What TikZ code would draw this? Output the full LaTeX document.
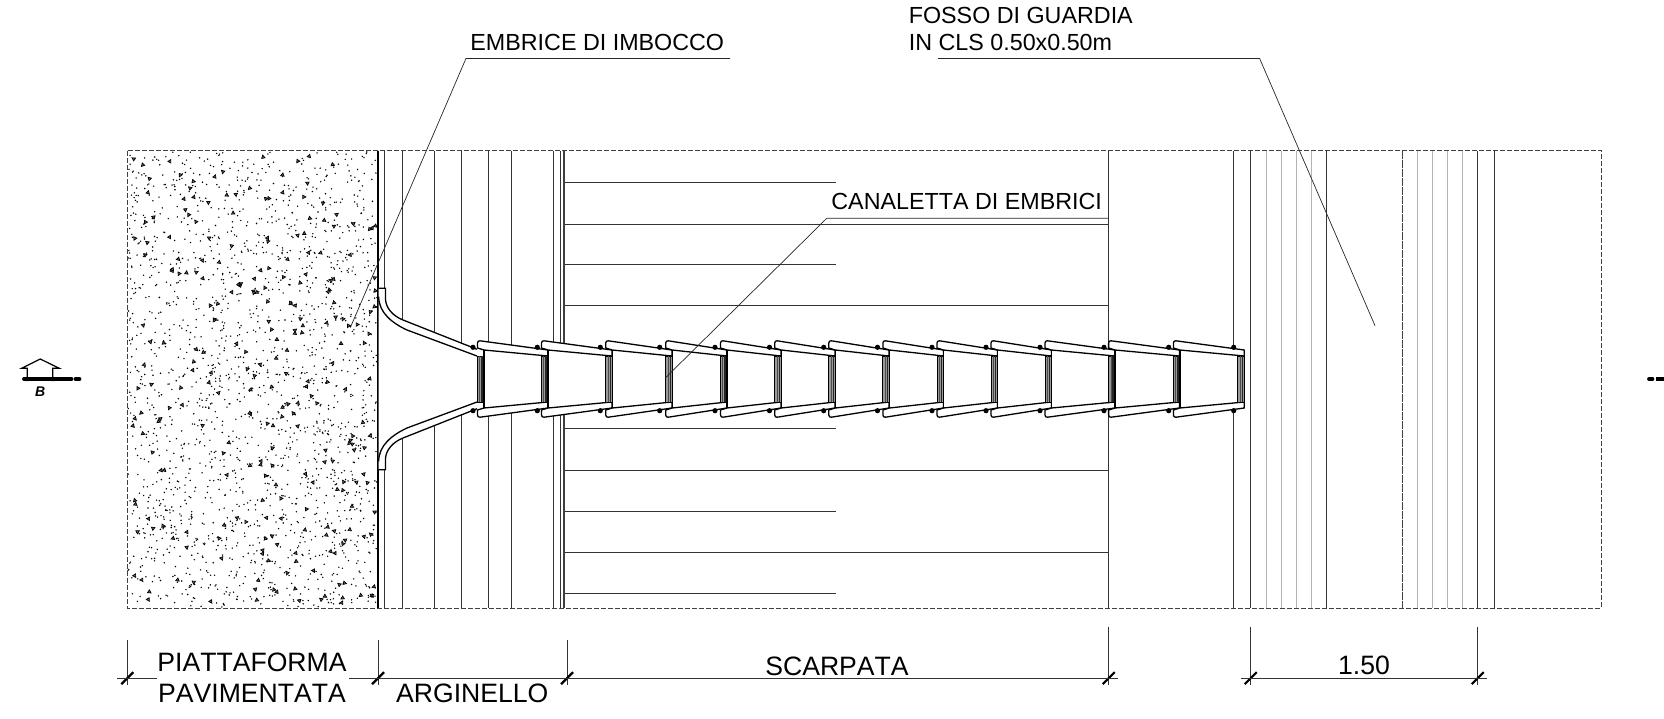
\documentclass[tikz,border=0pt]{standalone}
\usepackage{fontspec}
\setmainfont[Kerning=Off]{Liberation Sans}
\usetikzlibrary{calc}

\tikzset{
  thinline/.style={line width=.45pt,black!80},
  lightline/.style={line width=.45pt,black!30},
  leaderline/.style={line width=.35pt,black!85},
  tileline/.style={line width=.65pt,black,fill=white,line join=round},
  dimtext/.style={font=\fontsize{13.3}{13.3}\selectfont,inner sep=0pt,anchor=base},
  labeltext/.style={font=\fontsize{11.65}{11.65}\selectfont,inner sep=0pt,anchor=base west}
}

\begin{document}
\begin{tikzpicture}[x=.5pt,y=-.5pt]
      \useasboundingbox (0,0) rectangle (1664,718);
      % pavement texture
      \pgfmathsetseed{4711}
      \foreach \i in {1,...,1900} {
        \pgfmathsetmacro\px{128+rnd*249}
        \pgfmathsetmacro\py{152+rnd*455}
        \fill (\px,\py) circle (.8);
      }
      \foreach \i in {1,...,260} {
        \pgfmathsetmacro\px{130+rnd*246}
        \pgfmathsetmacro\py{154+rnd*451}
        \pgfmathsetmacro\pa{rnd*360}
        \draw[shift={(\px,\py)},rotate=\pa,line width=.35pt,fill=black!60] (-1.7,1.2) -- (1.7,1.2) -- (0,-1.9) -- cycle;
      }
      % outline
      \draw[line width=.45pt,black!75,dash pattern=on 2.5pt off 1pt] (127.3,150.5) rectangle (1601,608);
      % vertical lines
      \draw[line width=1.3pt] (378,150.5) -- (378,608);
      \foreach \x in {384,402,434,461,488,511,553.7,560,1108.6,1233.8,1250.7,1326.6,1477.7,1494.6}
        \draw[thinline] (\x,150.5) -- (\x,608);
      \draw[line width=.9pt,black!75] (564,150.5) -- (564,608);
      \draw[line width=.5pt,black!75,dash pattern=on 4pt off .5pt] (1402,150.5) -- (1402,608);
      \foreach \x in {1266,1281,1296,1311.5,1417,1432,1447.5,1462.6}
        \draw[lightline] (\x,150.5) -- (\x,608);
      % horizontal lines
      \foreach \y in {182.5,264,428.7,511.5,593}
        \draw[thinline] (565,\y) -- (836,\y);
      \foreach \y in {224,305.6,470,552}
        \draw[thinline] (565,\y) -- (1108.6,\y);
      % mouth of the chute
      \fill[white] (378.7,288.3) -- (385.4,288.3) -- (385.4,298) .. controls (385.4,308) and (393,316) .. (403,320) -- (477,349.3) -- (477,408.7) -- (403,438) .. controls (393,442) and (385.4,450) .. (385.4,460) -- (385.4,469.7) -- (378.7,469.7) -- cycle;
      \foreach \s in {1,-1} {
        \begin{scope}[shift={(0,379)},yscale=\s]
          \draw[line width=.65pt] (378.7,-90.7) -- (385.4,-90.7) -- (385.4,-81) .. controls (385.4,-71) and (393,-63) .. (403,-59) -- (477,-29.7);
          \draw[line width=.65pt] (378.7,-82.3) .. controls (378.7,-66.5) and (392,-56) .. (407,-49) -- (477,-23);
        \end{scope}
      }
      % tiles of the chute
      \foreach \xa/\xb in {477.5/548,541.5/612,605.7/672,665.7/727,720.5/781,774.7/835,828.8/889,882.9/943.5,937/997.5,991/1051.5,1045/1115,1108.6/1179.5,1173.4/1244.3} {
        \fill[white] (\xa+6.5,350) -- (\xb,356) -- (\xb,402) -- (\xa+6.5,408) -- cycle;
        \draw[fill=black!40,line width=.45pt] (\xa,356) rectangle (\xa+6.5,402);
        \draw[line width=.3pt,black!70] (\xa+2.2,356) -- (\xa+2.2,402);
        \draw[line width=.8pt,black!85] (\xa+4.6,356) -- (\xa+4.6,402);
        \foreach \s in {1,-1} {
          \begin{scope}[shift={(0,379)},yscale=\s]
            \draw[tileline] (\xa+2.5,-38.2) -- (\xb,-29) -- (\xb,-23) -- (\xa+6.5,-29) -- (\xa,-31) -- (\xa,-36) .. controls (\xa,-37.5) and (\xa+1,-38.4) .. (\xa+2.5,-38.2) -- cycle;
          \end{scope}
        }
        \draw[line width=.65pt] (\xa+6.5,350) -- (\xa+6.5,408);
      }
      \draw[line width=.65pt] (1244.3,350) -- (1244.3,408);
      \draw[fill=black!40,line width=.45pt] (1237.7,356) rectangle (1244.3,402);
      \draw[line width=.3pt,black!70] (1239.9,356) -- (1239.9,402);
      \draw[line width=.8pt,black!85] (1242.3,356) -- (1242.3,402);
      \foreach \x in {473,537.3,600.3,659.7,715,769.5,823.7,877.5,932,986,1040,1104,1168.7,1233.7} {
        \fill (\x,347.3) circle (2.6);
        \fill (\x,410.7) circle (2.6);
      }
      % labels and leaders
      \node[labeltext] (imbocco) at (470,50) {EMBRICE DI IMBOCCO};
      \coordinate (imboccoA) at (730,58.4);
      \coordinate (imboccoB) at (466,58.4);
      \coordinate (imboccoC) at (351,326);
      \draw[leaderline] (imboccoA) -- (imboccoB) -- (imboccoC);
      \node[labeltext] (canaletta) at (831,209) {CANALETTA DI EMBRICI};
      \coordinate (canalettaA) at (1108.6,218.3);
      \coordinate (canalettaB) at (826.7,218.3);
      \coordinate (canalettaC) at (665,378.3);
      \draw[leaderline] (canalettaA) -- (canalettaB) -- (canalettaC);
      \node[labeltext] (fosso) at (908.4,23.3) {FOSSO DI GUARDIA};
      \node[labeltext] (cls) at (908.4,50) {IN CLS 0.50x0.50m};
      \coordinate (fossoA) at (938,58.4);
      \coordinate (fossoB) at (1259.6,58.4);
      \coordinate (fossoC) at (1375,325.7);
      \draw[leaderline] (fossoA) -- (fossoB) -- (fossoC);
      % dimensions
      \foreach \x/\t in {127.3/640,378/640,567/640,1108.7/626.7,1250.7/626.7,1477.7/626.7} {
        \draw[thinline] (\x,\t) -- (\x,685);
        \draw[line width=1.1pt] (\x-6,684.2) -- (\x+6,672.2);
      }
      \draw[thinline] (117.3,678.2) -- (156.7,678.2);
      \draw[thinline] (349.3,678.2) -- (1118.3,678.2);
      \draw[thinline] (1241.3,678.2) -- (1487.3,678.2);
      \node[dimtext] (piatta) at (252,671) {PIATTAFORMA};
      \node[dimtext] (pavim) at (252,702.7) {PAVIMENTATA};
      \node[dimtext] (argin) at (472.3,702.7) {ARGINELLO};
      \node[dimtext] (scarp) at (837,675) {SCARPATA};
      \node[dimtext] (quota) at (1364,674) {1.50};
      % section mark
      \draw[line width=.6pt] (27.3,381) -- (27.3,368.3) -- (21.7,368.3) -- (40.3,359) -- (59.3,368.3) -- (52.7,368.3) -- (52.7,381);
      \draw[line width=1.9pt,line cap=round] (24,379) -- (71.5,379);
      \draw[line width=1.9pt,line cap=round] (75.5,379) -- (79.5,379);
      \node[font=\fontsize{7}{7}\selectfont\bfseries\itshape,inner sep=0pt,anchor=base] (sezione) at (40.3,396) {B};
      \draw[line width=1.9pt,line cap=round] (1649,379) -- (1652.5,379);
      \draw[line width=1.9pt] (1656,379) -- (1664,379);
    \end{tikzpicture}
\end{document}
